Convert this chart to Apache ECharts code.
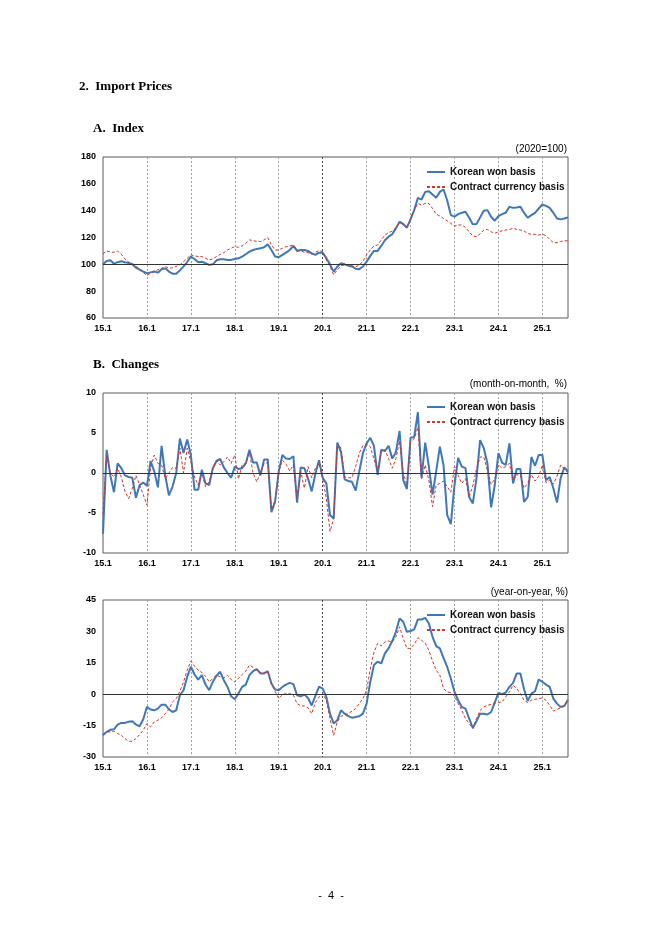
<!DOCTYPE html>
<html><head><meta charset="utf-8">
<script src="https://cdn.jsdelivr.net/npm/echarts@6/dist/echarts.min.js"></script>
<style>html,body{margin:0;padding:0;background:#fff}#c{width:662px;height:935px}</style>
</head><body><div id="c"></div>
<script>
// ---- data ----
const years = ['15','16','17','18','19','20','21','22','23','24','25'];
const lastMonth = 8; // data through 25.8
const tickLabels = ['15.1','16.1','17.1','18.1','19.1','20.1','21.1','22.1','23.1','24.1','25.1'];
const categories = [];
years.forEach((y, k) => { const n = (k === years.length - 1) ? lastMonth : 12; for (let m = 1; m <= n; m++) categories.push(y + '.' + m); });

const seriesNames = ['Korean won basis', 'Contract currency basis'];

// A. Index (2020=100)
const indexWon = [
 100,102.5,103,100.5,101.6,102.3,101.5,101,100.3,97.5,96,94.6,
 93.4,94,94.6,93.8,96.4,97,94.6,93,93,95.5,98.5,101.7,
 105.8,104,101.5,102,100.8,99.6,100,103,103.8,103.8,103.3,103.3,
 104,104.5,105.8,107.5,109.5,110.7,111.5,112,112.7,115,110.7,105.8,
 105.3,107,108.7,110.7,113.7,110,110.7,110.7,110,108.2,107,108.7,
 108.7,104.6,100,94.6,98.4,100.8,100,99,98.4,96.7,96.4,98.4,
 102,106.3,110,110,113.7,118,120.6,122.4,126.8,131.8,130,127.3,
 133.5,140.4,149.6,148.3,154,154.5,152,149.6,154,155.8,147.8,136.7,
 135.5,137.4,138.4,139.2,134.7,129.8,130,135,140,140.4,135.5,132.5,
 136,137.4,138.4,142.9,142.1,142.4,142.9,138.4,134.7,136.7,138.4,141.6,
 144.6,143.6,142.1,138.4,134.2,133.5,134.2,135
];
const indexContract = [
 107.8,110,109.2,109,109.8,107.5,104,101.8,100.2,98.5,96.5,94,
 91.7,93.4,94.6,96,97,98.4,97,97.5,98.4,99.6,102,104.5,
 107,106.3,105.8,105.8,104.5,103.3,104,105.8,107.5,108.7,110.7,112,
 113.2,112.7,113.7,115.7,118.2,117.7,117,117,118.2,120,114.4,110.7,
 110.7,112,113.2,113.7,114.4,110.7,110,109,108.7,107.5,109,110.2,
 109.5,103.3,98.4,92.2,96,99,99.6,99,99,98,99.6,102,
 107,110.7,113.7,114.4,118.2,121.8,123.6,124.8,127.3,131,130,127.5,
 134.2,140.4,145.4,144.1,145.4,145.4,141.6,137.4,136,134.2,132.5,130.5,
 128.5,129.3,129.3,127.5,124.3,121.1,120.6,122.6,125.6,126,124.3,123.1,
 124.3,125,125.6,126,126.8,126,125.6,124.8,123,122.4,122.4,121.8,
 122.4,121.4,118.6,116.2,116.2,117,117.7,117.4
];

// B. Changes, month-on-month (%)
const momWon = [
 -7.6,2.9,-0.3,-2.4,1.2,0.6,-0.3,-0.5,-0.6,-3.1,-1.5,-1.2,
 -1.6,1.5,0.2,-1.8,3.4,-0.3,-2.8,-1.7,0,4.3,2.5,4.2,
 2.25,-2.1,-2.1,0.4,-1.3,-1.5,0.6,1.5,1.75,0.7,0,-0.6,
 0.8,0.5,0.6,1.2,2.9,1.3,1.3,-0.3,1.7,1.7,-4.9,-3.6,
 0.2,2.25,1.8,1.75,2.1,-3.7,0.7,0.6,-0.7,-2.3,-0.1,1.6,
 -0.6,-1.3,-5.25,-5.7,3.8,2.6,-0.8,-1.0,-1.1,-2.2,0.2,2.5,
 3.7,4.4,3.4,-0.25,2.9,2.75,3.4,1.8,2.6,5.25,-0.9,-2.0,
 4.4,4.5,7.6,-0.6,3.8,0.8,-2.7,0.2,3.3,1.0,-5.25,-6.4,
 -1.5,1.9,0.8,0.6,-3.0,-3.8,-0.7,4.1,3.1,1.2,-4.3,-1.5,
 2.5,1.3,1.0,3.7,-1.3,0.5,0.5,-3.6,-3.0,2.0,0.9,2.25,
 2.25,-0.9,-0.5,-1.9,-3.7,-0.6,0.7,0.2
];
const momContract = [
 -5.2,2.25,0,-0.5,0.6,-0.5,-2.3,-3.2,-1.9,-0.3,-1.5,-2.7,
 -4.0,0.6,2.25,1.2,1.0,-0.7,0,0.7,0.6,3.1,0,3.1,
 1.4,-0.5,-1.5,0,-1.7,-1.1,0.6,1.6,1.0,1.4,2.0,1.2,
 2.25,-0.75,1.0,1.2,2.5,0,-1.1,0,1.2,1.3,-4.6,-3.4,
 0.2,1.6,1.1,0.25,1.0,-3.2,0.2,-1.9,0.8,-0.6,0.6,1.2,
 -0.7,-3.2,-7.3,-5.7,3.7,3.1,-0.5,-0.6,-0.6,0.8,2.5,3.4,
 3.6,3.3,1.8,0.2,2.7,2.9,1.8,0.6,1.8,4.0,0,-1.5,
 3.9,4.3,5.7,-0.7,1.0,-0.9,-4.2,-1.5,-1.3,-1.0,-1.7,-2.4,
 0.8,-0.3,-1.3,-0.7,-3.0,-1.6,0.5,2.0,2.0,0.3,-1.4,-0.8,
 1.0,0.6,0.8,1.2,-0.9,-0.2,-0.3,-1.9,-1.3,-0.2,-1.0,-0.4,
 1.0,-1.2,-0.9,-1.4,-0.4,1.0,0.5,0.0
];

// C. year-on-year (%)
const yoyWon = [
 -19.6,-18,-17,-16.8,-14.5,-13.7,-13.7,-13.2,-12.9,-14.5,-15.3,-12,
 -6,-7.3,-7.7,-6.9,-5,-5,-7.2,-8.5,-7.7,-0.5,1.9,8.3,
 13.1,9.4,7,9.1,4.6,1.9,5.9,8.8,10.7,6.7,3.5,-1.0,
 -2.4,0.3,3.5,4.6,9.1,11,12,9.9,9.9,11,5.1,2.2,
 1.9,3.5,4.6,5.4,4.8,-0.5,-1.0,-0.2,-1.8,-5.4,-0.8,3.6,
 2.7,-1.3,-9.3,-14,-12.4,-7.7,-9.3,-10.5,-11.2,-10.9,-10.5,-9.3,
 -4.5,5.9,13.9,15.5,14.7,19.5,21.9,25.4,29.8,36.2,34.6,29.8,
 30.2,31,35.7,35.7,36.5,33.8,27.4,23,21.9,17.4,13.1,7.5,
 1.1,-2.9,-6.1,-6.9,-11.6,-16.1,-12.9,-9.3,-9.3,-9.7,-8.5,-4.0,
 0.6,0,0.8,3.5,5.4,9.9,9.9,2.4,-3.2,0.3,1.4,7.0,
 5.9,4.6,3.5,-2.1,-4.5,-6.1,-5.6,-2.6
];
const yoyContract = [
 -19.1,-18,-18,-17.7,-18.8,-19.6,-21.2,-22.5,-22.5,-21.2,-19.3,-17.2,
 -14,-15.6,-13.2,-12.4,-11.3,-9.3,-7.2,-3.7,-2.1,1.4,5.9,11.5,
 15.8,13.4,11.5,10.4,8.6,5.9,7.5,9.1,8.3,7.8,9.1,7.0,
 5.9,7.5,9.4,11,13.9,12.8,11,10.4,10.4,10.7,5.1,1.4,
 -2.1,-0.2,0.3,0.3,-0.5,-4.5,-5.6,-5.6,-6.5,-9.3,-4.0,-1.3,
 0.3,-2.9,-11.6,-19.6,-13.2,-10.5,-10,-9.3,-8.1,-6.9,-4.5,-2.1,
 2.0,12,20,24.3,23.1,25,25.4,25,27.4,32.2,26.6,21.9,
 21.9,23.8,27,25.8,24.3,21,15.8,11.5,9.1,2.7,1.1,0.8,
 -1.0,-4.5,-7.7,-11.6,-14,-16.4,-11.6,-7.7,-6.1,-5.3,-4.9,-4.1,
 -4.0,-3.7,-1.3,1.1,4.3,2.7,0.3,-2.9,-4.0,-2.9,-2.4,-2.1,
 -1.8,-2.9,-5.3,-8.1,-7.2,-6.5,-5.3,-2.9
];

const panels = [
  { won: indexWon, contract: indexContract, min: 60, max: 180, interval: 20, base: 100 },
  { won: momWon, contract: momContract, min: -10, max: 10, interval: 5, base: 0 },
  { won: yoyWon, contract: yoyContract, min: -30, max: 45, interval: 15, base: 0 }
];

// ---- layout / style ----
const grids = [
  { left: 103, right: 94, top: 157, height: 161 },
  { left: 103, right: 94, top: 393, height: 160 },
  { left: 103, right: 94, top: 600, height: 157 }
];
const legendTops = [162, 397, 605];
const BLUE = '#3f77b8', RED = '#d2352a';
const GRID_GRAY = '#a0a0a0', GRID_DARK = '#4a4a4a';
// year-start gridlines 16.1 ... 25.1 (20.1 drawn darker, as in the reference)
const gridColors = ['16.1','17.1','18.1','19.1','20.1','21.1','22.1','23.1','24.1','25.1'].map(t => t === '20.1' ? GRID_DARK : GRID_GRAY);
const labelFont = { fontFamily: 'Liberation Sans, Arial, sans-serif', fontWeight: 'bold', fontSize: 9, color: '#000' };
const isJan = (i) => i % 12 === 0;

const option = {
  animation: false,
  backgroundColor: '#fff',
  textStyle: { fontFamily: 'Liberation Sans, Arial, sans-serif' },
  grid: grids.map(g => Object.assign({ show: true, borderColor: '#5a5a5a', borderWidth: 1, backgroundColor: 'transparent' }, g)),
  xAxis: grids.map((g, k) => ({
    type: 'category', gridIndex: k, data: categories, boundaryGap: false,
    axisLine: { show: false }, axisTick: { show: false },
    axisLabel: Object.assign({ interval: (i) => isJan(i), margin: 6,
      formatter: (v) => tickLabels.indexOf(v) >= 0 ? v : '' }, labelFont),
    splitLine: { show: true, interval: (i) => isJan(i) && i > 0, lineStyle: { color: gridColors, type: [2, 2], width: 1 } }
  })),
  yAxis: panels.map((p, k) => ({
    type: 'value', gridIndex: k, min: p.min, max: p.max, interval: p.interval,
    axisLine: { show: false }, axisTick: { show: false }, splitLine: { show: false },
    axisLabel: Object.assign({ margin: 7 }, labelFont)
  })),
  legend: legendTops.map(t => ({
    data: seriesNames, orient: 'vertical', left: 421, top: t, itemWidth: 18, itemHeight: 10, itemGap: 5,
    itemStyle: { opacity: 0 },
    textStyle: { fontSize: 10, fontWeight: 'bold', color: '#111', fontFamily: 'Liberation Sans, Arial, sans-serif' },
    selectedMode: false
  })),
  series: [],
  graphic: [
    { type: 'text', left: 79, top: 80, style: { text: '2.  Import Prices', font: 'bold 13px "Liberation Serif", "Times New Roman", serif', fill: '#000' } },
    { type: 'text', left: 93, top: 122, style: { text: 'A.  Index', font: 'bold 13px "Liberation Serif", "Times New Roman", serif', fill: '#000' } },
    { type: 'text', left: 93, top: 358, style: { text: 'B.  Changes', font: 'bold 13px "Liberation Serif", "Times New Roman", serif', fill: '#000' } },
    { type: 'text', right: 95, top: 144, style: { text: '(2020=100)', font: '10px "Liberation Sans", Arial, sans-serif', fill: '#000' } },
    { type: 'text', right: 95, top: 379, style: { text: '(month-on-month,  %)', font: '10px "Liberation Sans", Arial, sans-serif', fill: '#000' } },
    { type: 'text', right: 94, top: 587, style: { text: '(year-on-year, %)', font: '10px "Liberation Sans", Arial, sans-serif', fill: '#000' } },
    { type: 'text', left: 'center', top: 890, style: { text: '-  4  -', font: '11px "Liberation Sans", Arial, sans-serif', fill: '#000' } }
  ]
};

panels.forEach((p, k) => {
  option.series.push({
    name: seriesNames[0], type: 'line', xAxisIndex: k, yAxisIndex: k, data: p.won,
    symbol: 'none', lineStyle: { color: BLUE, width: 2 }, itemStyle: { color: BLUE }, z: 3,
    markLine: { silent: true, symbol: 'none', label: { show: false },
      lineStyle: { color: '#333', type: 'solid', width: 1 }, data: [{ yAxis: p.base }] }
  });
  option.series.push({
    name: seriesNames[1], type: 'line', xAxisIndex: k, yAxisIndex: k, data: p.contract,
    symbol: 'none', lineStyle: { color: RED, width: 1, type: [3, 2] }, itemStyle: { color: RED }, z: 4
  });
});

const chart = echarts.init(document.getElementById('c'), null, { renderer: 'canvas' });
chart.setOption(option);
</script></body></html>
